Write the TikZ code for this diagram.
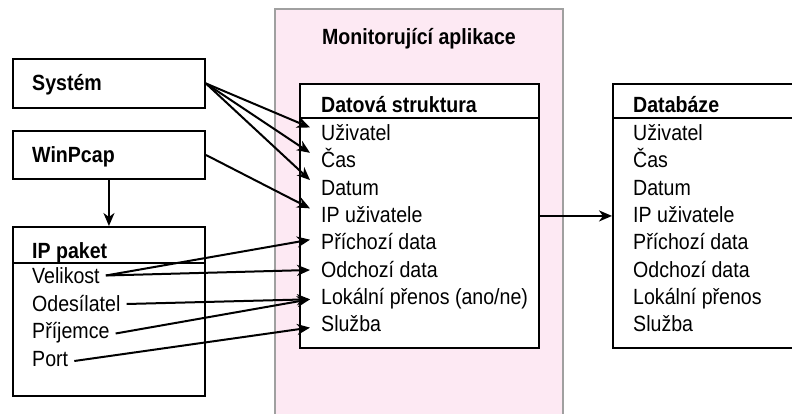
\documentclass[tikz,border=0pt]{standalone}
\usepackage{fontspec}
\setmainfont[FakeStretch=0.89]{Liberation Sans}
\usetikzlibrary{arrows.meta}
\definecolor{apppink}{HTML}{FDE9F3}
\definecolor{appborder}{HTML}{A0A0A0}

\begin{document}
\begin{tikzpicture}[x=1pt,y=-1pt,
  font=\fontsize{22}{25}\selectfont,
  box/.style={draw=black, line width=1.9pt, inner sep=0pt, anchor=north west},
  rule/.style={line width=1.9pt},
  hdr/.style={font=\fontsize{22}{25}\selectfont\bfseries, anchor=base west, inner sep=0pt},
  srcrow/.style={anchor=base west, inner xsep=6pt, inner ysep=0pt, text height=16pt, text depth=0pt},
  dstrow/.style={anchor=base west, inner xsep=11pt, inner ysep=0pt, text height=16pt, text depth=0pt},
  dbrow/.style={anchor=base west, inner sep=0pt},
  link/.style={line width=2pt, -{Stealth[length=13pt,width=11pt,inset=4pt]}},
]
\useasboundingbox (0,0) rectangle (792,414);
\clip (0,0) rectangle (792,414);

% application frame (runs off the bottom edge)
\draw[draw=appborder, fill=apppink, line width=2pt] (275,9) rectangle (563,440);
\node[hdr, anchor=base] (apptitle) at (419,44.5) {Monitorující aplikace};

% source boxes
\node[box, minimum width=192pt, minimum height=49pt] (sysbox) at (12,58) {};
\node[hdr] (systxt) at (32,91) {Systém};
\node[box, minimum width=192pt, minimum height=48pt] (winbox) at (12,130) {};
\node[hdr] (wintxt) at (32,162.5) {WinPcap};

% IP packet
\node[box, minimum width=192pt, minimum height=169pt] (ipbox) at (12,226) {};
\draw[rule] (ipbox.north west) ++(0,37) -- ++(192,0);
\node[hdr] (iptxt) at (32,258) {IP paket};
\node[srcrow] (velikost) at (26,283.5) {Velikost};
\node[srcrow] (odesilatel) at (26,311) {Odesílatel};
\node[srcrow] (prijemce) at (26,338.5) {Příjemce};
\node[srcrow] (port) at (26,366) {Port};

% data structure
\node[box, fill=white, minimum width=239pt, minimum height=264pt] (dsbox) at (299,83) {};
\draw[rule] (dsbox.north west) ++(0,35) -- ++(239,0);
\node[hdr] (dstxt) at (321,113) {Datová struktura};
\node[dstrow] (ds1) at (310,140.5) {Uživatel};
\node[dstrow] (ds2) at (310,167.8) {Čas};
\node[dstrow] (ds3) at (310,195.1) {Datum};
\node[dstrow] (ds4) at (310,222.4) {IP uživatele};
\node[dstrow] (ds5) at (310,249.7) {Příchozí data};
\node[dstrow] (ds6) at (310,277) {Odchozí data};
\node[dstrow] (ds7) at (310,304.3) {Lokální přenos (ano/ne)};
\node[dstrow] (ds8) at (310,331.6) {Služba};

% database (runs off the right edge)
\node[box, fill=white, minimum width=220pt, minimum height=264pt] (dbbox) at (612,83) {};
\draw[rule] (dbbox.north west) ++(0,35) -- ++(220,0);
\node[hdr] (dbtxt) at (633,113) {Databáze};
\node[dbrow] (db1) at (633,140.5) {Uživatel};
\node[dbrow] (db2) at (633,167.8) {Čas};
\node[dbrow] (db3) at (633,195.1) {Datum};
\node[dbrow] (db4) at (633,222.4) {IP uživatele};
\node[dbrow] (db5) at (633,249.7) {Příchozí data};
\node[dbrow] (db6) at (633,277) {Odchozí data};
\node[dbrow] (db7) at (633,304.3) {Lokální přenos};
\node[dbrow] (db8) at (633,331.6) {Služba};

% connectors
\draw[link] (winbox.south) -- (ipbox.north);
\draw[link] (sysbox.east) -- ([yshift=5pt]ds1.west);
\draw[link] (sysbox.east) -- ([yshift=7pt]ds2.west);
\draw[link] (sysbox.east) -- ([yshift=7pt]ds3.west);
\draw[link] (winbox.east) -- ([yshift=6pt]ds4.west);
\draw[link] (velikost.east) -- ([yshift=2pt]ds5.west);
\draw[link] (velikost.east) -- ([yshift=-1pt]ds6.west);
\draw[link] ([yshift=-1pt]odesilatel.east) -- ([yshift=-3pt]ds7.west);
\draw[link] ([yshift=-3pt]prijemce.east) -- ([yshift=-3pt]ds7.west);
\draw[link] ([yshift=-3pt]port.east) -- ([yshift=-4pt]ds8.west);
\draw[link] (dsbox.east) -- (dbbox.west);
\end{tikzpicture}
\end{document}
